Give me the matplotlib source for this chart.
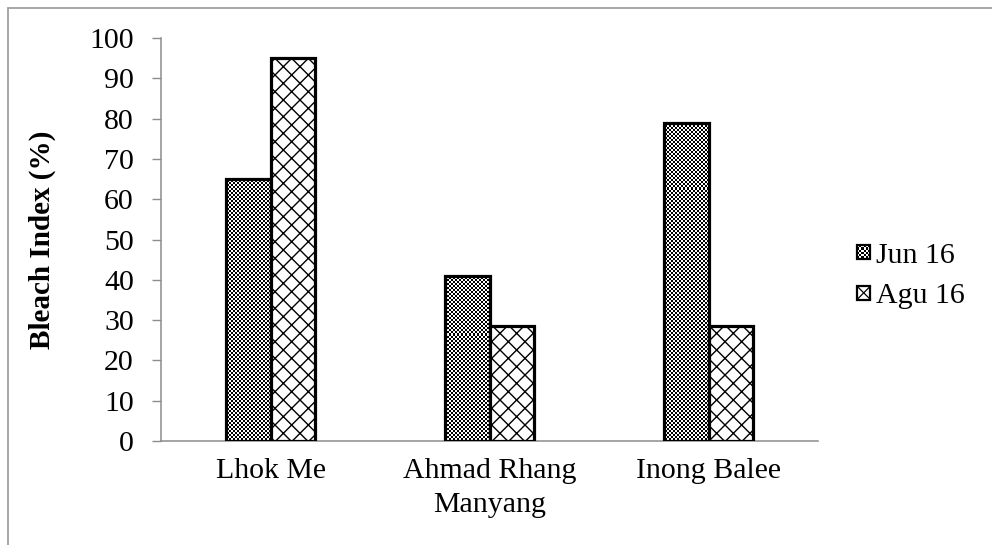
import numpy as np
import matplotlib
matplotlib.use("Agg")
import matplotlib.pyplot as plt
from matplotlib.patches import Rectangle, Patch
from matplotlib.legend_handler import HandlerBase

# Bleach index per site, two survey months
sites = ["Lhok Me", "Ahmad Rhang\nManyang", "Inong Balee"]
jun16 = [65, 41, 79]
agu16 = [95, 28.5, 28.5]
series_labels = ["Jun 16", "Agu 16"]
yticks = list(range(0, 101, 10))

plt.rcParams["font.family"] = ["Liberation Serif", "DejaVu Serif"]
plt.rcParams["hatch.linewidth"] = 1.0

W, H, DPI = 992, 545, 100
fig = plt.figure(figsize=(W / DPI, H / DPI), dpi=DPI)
ax = fig.add_axes([161 / W, 1 - 441 / H, (818 - 161) / W, (441 - 38) / H])

axis_grey = "#8c8c8c"
bw = 0.205
x = np.arange(len(sites))

ax.set_xlim(-0.5, len(sites) - 0.5)
ax.set_ylim(0, 100)

# Jun bars: outline on top, fine checkerboard fill clipped to each bar
bars_jun = ax.bar(x - bw / 2, jun16, width=bw, facecolor="none",
                  edgecolor="black", linewidth=2.3, zorder=3)
# Agu bars: open diagonal lattice
bars_agu = ax.bar(x + bw / 2, agu16, width=bw, facecolor="white",
                  edgecolor="black", linewidth=2.3, hatch="xx", zorder=3)

pw, ph = 818 - 161, 441 - 38
ii, jj = np.mgrid[0:ph, 0:pw]
checker = ((ii // 2 + jj // 2) % 2).astype(float)
for b in bars_jun:
    bg = Rectangle(b.get_xy(), b.get_width(), b.get_height(),
                   facecolor="white", edgecolor="none", zorder=1.5)
    ax.add_patch(bg)
    im = ax.imshow(checker, cmap="gray", vmin=0, vmax=1,
                   extent=(-0.5, len(sites) - 0.5, 0, 100),
                   aspect="auto", interpolation="nearest", zorder=2)
    im.set_clip_path(b)

ax.set_xlim(-0.5, len(sites) - 0.5)
ax.set_ylim(0, 100)

ax.set_xticks(x)
ax.set_xticklabels(sites, fontsize=21.5, linespacing=1.4)
ax.set_yticks(yticks)
ax.set_yticklabels([str(v) for v in yticks], fontsize=21.5)
ax.tick_params(axis="x", length=0, pad=12)
ax.tick_params(axis="y", length=6.5, width=1.0, color=axis_grey, pad=13)

for s in ["top", "right"]:
    ax.spines[s].set_visible(False)
for s in ["left", "bottom"]:
    ax.spines[s].set_color(axis_grey)
    ax.spines[s].set_linewidth(1.1)

ax.set_ylabel("Bleach Index (%)", fontsize=21, fontweight="bold")
ax.yaxis.set_label_coords(-0.160, 0.5)


class CheckerHandler(HandlerBase):
    def create_artists(self, legend, orig_handle, xdescent, ydescent,
                       width, height, fontsize, trans):
        arts = []
        side = min(width, height)
        x0, y0 = -xdescent, -ydescent + (height - side) / 2
        arts.append(Rectangle((x0, y0), side, side, facecolor="white",
                              edgecolor="none", transform=trans))
        n = 6
        c = side / n
        for i in range(n):
            for j in range(n):
                if (i + j) % 2 == 0:
                    arts.append(Rectangle((x0 + i * c, y0 + j * c), c, c,
                                          facecolor="black", edgecolor="none",
                                          transform=trans))
        arts.append(Rectangle((x0, y0), side, side, facecolor="none",
                              edgecolor="black", linewidth=1.6,
                              transform=trans))
        return arts


class CrossHandler(HandlerBase):
    def create_artists(self, legend, orig_handle, xdescent, ydescent,
                       width, height, fontsize, trans):
        side = min(width, height)
        x0, y0 = -xdescent, -ydescent + (height - side) / 2
        box = Rectangle((x0, y0), side, side, facecolor="white",
                        edgecolor="black", linewidth=1.6, transform=trans)
        d1 = plt.Line2D([x0, x0 + side], [y0, y0 + side], color="black",
                        linewidth=0.9, transform=trans)
        d2 = plt.Line2D([x0, x0 + side], [y0 + side, y0], color="black",
                        linewidth=0.9, transform=trans)
        return [box, d1, d2]


h_jun = Patch(facecolor="black", label=series_labels[0])
h_agu = Patch(facecolor="white", hatch="xx", label=series_labels[1])
fig.legend(handles=[h_jun, h_agu], labels=series_labels,
           handler_map={h_jun: CheckerHandler(), h_agu: CrossHandler()},
           loc="center left", bbox_to_anchor=(857 / W, 1 - 276 / H),
           frameon=False, fontsize=21.5, handlelength=0.45, handleheight=0.45,
           handletextpad=0.2, labelspacing=0.5, borderpad=0, borderaxespad=0)

# outer chart-area border (runs off the right and bottom edges)
fig.patches.append(Rectangle((8 / W, -0.05), 1.1, 1 - 7.5 / H + 0.05,
                             transform=fig.transFigure, facecolor="none",
                             edgecolor="#a0a0a0", linewidth=1.3, clip_on=False))

fig.savefig("out.png", dpi=DPI)
